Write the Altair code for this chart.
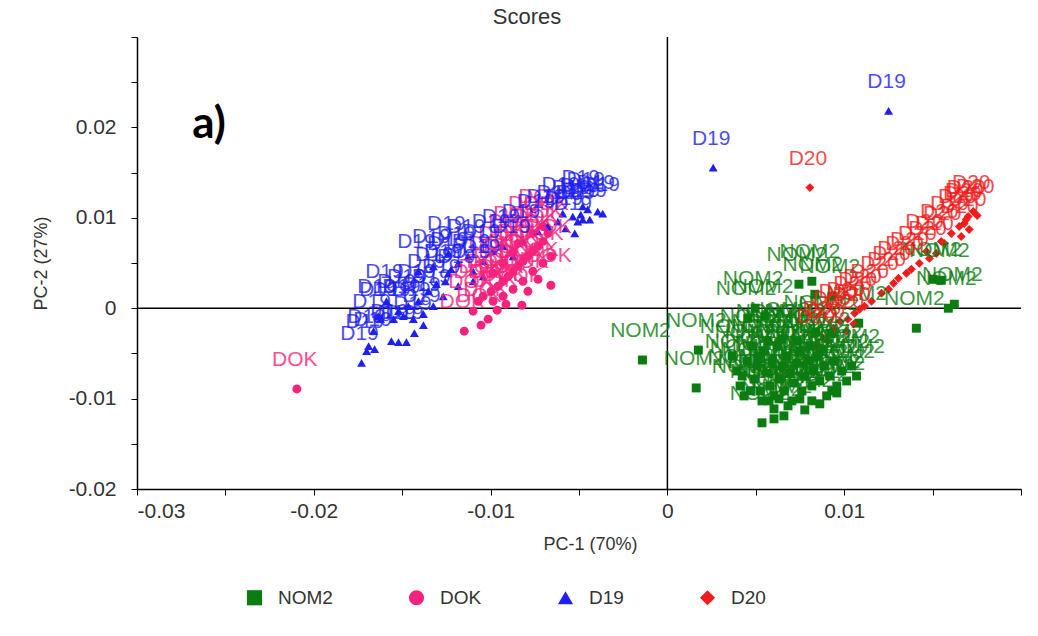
import altair as alt
import pandas as pd

groups = ["NOM2", "DOK", "D19", "D20"]
point_colors = ["#0b7d10", "#f5237c", "#1f1ff0", "#f21c1c"]
shapes = ["square", "circle", "triangle-up", "diamond"]

nom2_x = [-0.00141, 0.00163, 0.00175, 0.00496, 0.00456, 0.00552, 0.00744, 0.00834, 0.00839, 0.00924,
          0.01082, 0.01408, 0.01589, 0.01623, 0.01504, 0.00535, 0.00603, 0.00659, 0.00777, 0.00862,
          0.00930, 0.00958, 0.00575, 0.00631, 0.00817, 0.00930, 0.01549,
          0.00366, 0.00394, 0.00411, 0.00434, 0.00451, 0.00479, 0.00490, 0.00507, 0.00524, 0.00535,
          0.00546, 0.00563, 0.00580, 0.00592, 0.00603, 0.00620, 0.00637, 0.00648, 0.00659, 0.00676,
          0.00693, 0.00704, 0.00715, 0.00732, 0.00749, 0.00761, 0.00777, 0.00794, 0.00817, 0.00828,
          0.00845, 0.00862, 0.00885, 0.00901, 0.00918, 0.00941, 0.00958, 0.00986, 0.01014, 0.01042,
          0.01070,
          0.00603, 0.00682, 0.00749, 0.00817,
          0.00423, 0.00468, 0.00513, 0.00569, 0.00648, 0.00732, 0.00806, 0.00873]
nom2_y = [-0.00573, -0.00882, -0.00463, 0.00000, -0.00110, -0.00088, 0.00265, 0.00154, -0.00265, -0.00276,
          -0.00165, -0.00221, 0.00000, 0.00044, 0.00320, -0.01268, -0.01224, -0.01191, -0.01125, -0.01058,
          -0.00915, -0.00937, -0.01025, -0.01003, 0.00298, 0.00132, 0.00309,
          -0.00529, -0.00695, -0.00860, -0.00970, -0.00584, -0.00419, -0.00783, -0.00639, -0.00915, -0.01025,
          -0.00474, -0.00717, -0.00860, -0.00584, -0.00970, -0.00419, -0.00783, -0.00639, -0.00915, -0.00529,
          -0.00717, -0.01025, -0.00827, -0.00606, -0.00474, -0.00915, -0.00750, -0.00584, -0.00860, -0.00695,
          -0.00529, -0.00805, -0.00639, -0.00970, -0.00750, -0.00584, -0.00860, -0.00695, -0.00805, -0.00639,
          -0.00750,
          -0.01114, -0.01080, -0.01003, -0.01025,
          -0.00750, -0.00915, -0.00529, -0.00364, -0.00342, -0.00364, -0.00419, -0.00452]

dok_x = [-0.01149, -0.01054, -0.01014, -0.00963, -0.00913, -0.00823, -0.00659, -0.02096,
         -0.01099, -0.01070, -0.01042, -0.00997, -0.00958, -0.00930, -0.00901, -0.00873, -0.00845,
         -0.00817, -0.00789, -0.00761, -0.00732, -0.00704, -0.00676,
         -0.00986, -0.00930, -0.00873, -0.00817, -0.00761, -0.00704, -0.00659,
         -0.00789, -0.00732, -0.00873, -0.00930, -0.00986, -0.00761, -0.00704, -0.00845]
dok_y = [-0.00254, -0.00187, -0.00121, -0.00022, 0.00044, 0.00033, 0.00254, -0.00893,
         -0.00033, 0.00077, 0.00132, 0.00187, 0.00243, 0.00298, 0.00353, 0.00408, 0.00463,
         0.00518, 0.00573, 0.00628, 0.00684, 0.00739, 0.00827,
         0.00077, 0.00132, 0.00209, 0.00298, 0.00408, 0.00496, 0.00573,
         0.00187, 0.00320, 0.00628, 0.00496, 0.00386, 0.00827, 0.00904, 0.00717]

d19_x = [-0.01730, -0.01701, -0.01656, -0.01561, -0.01521, -0.01476, -0.01431, -0.01380, -0.01307,
         -0.01256, -0.01239, -0.01223, -0.00575, -0.00524, -0.00507, -0.00479, -0.00439, -0.00451,
         -0.00490, 0.00259, 0.01251,
         -0.01690, -0.01662, -0.01623, -0.01589, -0.01521, -0.01465, -0.01408, -0.01352, -0.01408,
         -0.01324, -0.01239, -0.01183, -0.01127, -0.01099, -0.01042, -0.00986, -0.00930, -0.00873,
         -0.00817, -0.00732, -0.00676, -0.00620, -0.00592, -0.00535, -0.00479, -0.00394, -0.00366,
         -0.01634, -0.01549, -0.01493, -0.01437, -0.01380, -0.01324, -0.01268, -0.01183, -0.01099,
         -0.01042]
d19_y = [-0.00606, -0.00474, -0.00452, -0.00364, -0.00375, -0.00375, -0.00276, -0.00187, 0.00265,
         0.00298, 0.00386, 0.00430, 0.00882, 0.00827, 0.00959, 0.00981, 0.00981, 0.01092,
         0.01036, 0.01555, 0.02183,
         -0.00419, -0.00254, -0.00121, 0.00077, -0.00033, 0.00022, 0.00077, 0.00187, 0.00408,
         0.00463, 0.00606, 0.00496, 0.00573, 0.00408, 0.00518, 0.00628, 0.00684, 0.00573,
         0.00739, 0.00849, 0.00904, 0.00959, 0.01047, 0.01014, 0.01125, 0.01069, 0.01047,
         -0.00088, -0.00121, -0.00088, -0.00121, -0.00066, 0.00022, 0.00132, 0.00243, 0.00298,
         0.00353]

d20_x = [0.00806, 0.00885, 0.00851, 0.00941, 0.00975, 0.01059, 0.01115, 0.01251, 0.01307, 0.01380,
         0.01482, 0.01521, 0.01566, 0.01662, 0.01707, 0.01679, 0.01701, 0.01730, 0.01752, 0.01690,
         0.01651, 0.01606, 0.01549, 0.01465, 0.01425, 0.01352, 0.01279, 0.01211, 0.01155, 0.01087,
         0.01020, 0.00907, 0.01014, 0.01054]
d20_y = [0.01334, -0.00331, -0.00419, -0.00221, -0.00143, -0.00055, 0.00022, 0.00209, 0.00331, 0.00430,
         0.00551, 0.00606, 0.00717, 0.00794, 0.00871, 0.00937, 0.01014, 0.01069, 0.01025, 0.00981,
         0.00904, 0.00827, 0.00739, 0.00628, 0.00496, 0.00386, 0.00276, 0.00165, 0.00077, -0.00011,
         -0.00121, -0.00364, -0.00254, -0.00176]

rows = []
for g, xs, ys in [("NOM2", nom2_x, nom2_y), ("DOK", dok_x, dok_y),
                  ("D19", d19_x, d19_y), ("D20", d20_x, d20_y)]:
    for xv, yv in zip(xs, ys):
        rows.append({"group": g, "x": xv, "y": yv})
df = pd.DataFrame(rows)

x_ticks = [-0.03, -0.025, -0.02, -0.015, -0.01, -0.005, 0.0, 0.005, 0.01, 0.015, 0.02]
y_ticks = [-0.02, -0.015, -0.01, -0.005, 0.0, 0.005, 0.01, 0.015, 0.02, 0.025, 0.03]

fmt = ("abs(round(datum.value*1000)) % 10 != 0 ? '' : "
       "(round(datum.value*100) == 0 ? '0' : (datum.value < 0 ? '-' : '') + '0.0' + abs(round(datum.value*100)))")
x_label_expr = "datum.value > 0.015 ? '' : (" + fmt + ")"
y_label_expr = "datum.value > 0.025 ? '' : (" + fmt + ")"

xscale = alt.Scale(domain=[-0.03, 0.02], nice=False, zero=False)
yscale = alt.Scale(domain=[-0.02, 0.03], nice=False, zero=False)
cscale = alt.Scale(domain=groups, range=point_colors)
sscale = alt.Scale(domain=groups, range=shapes)

X = alt.X("x:Q", scale=xscale,
          axis=alt.Axis(values=x_ticks, labelExpr=x_label_expr, title="PC-1 (70%)",
                        titleX=453, titlePadding=14, labelPadding=5))
Y = alt.Y("y:Q", scale=yscale,
          axis=alt.Axis(values=y_ticks, labelExpr=y_label_expr, title="PC-2 (27%)",
                        titlePadding=18, labelPadding=15))

base = alt.Chart(df)

leg = alt.Legend(title=None, orient="none", legendX=108, legendY=551, direction="horizontal",
                 symbolSize=230, labelFontSize=19, labelFont="Liberation Sans",
                 labelColor="#333", columnPadding=74, labelOffset=14)

labels = base.mark_text(fontSize=21, font="Liberation Sans", dy=-29, dx=-2,
                        opacity=0.8, align="center", baseline="middle").encode(
    x=X, y=Y, text="group:N",
    color=alt.Color("group:N", scale=cscale, legend=leg),
)

points = base.mark_point(filled=True, size=80, opacity=1).encode(
    x=X, y=Y,
    color=alt.Color("group:N", scale=cscale, legend=leg),
    shape=alt.Shape("group:N", scale=sscale, legend=leg),
)

hrule = alt.Chart(pd.DataFrame({"r": [0]})).mark_rule(color="black", strokeWidth=1.5).encode(
    y=alt.datum(0))
vrule = alt.Chart(pd.DataFrame({"r": [0]})).mark_rule(color="black", strokeWidth=1.5).encode(
    x=alt.datum(0))

panel = alt.Chart(pd.DataFrame({"t": ["a)"]})).mark_text(
    fontSize=44, fontWeight="bold", font="Lato", color="black", align="center",
    baseline="middle").encode(text="t:N", x=alt.value(72), y=alt.value(88))

chart = alt.layer(hrule, vrule, points, labels, panel).properties(
    width=884, height=452,
    autosize=alt.AutoSizeParams(type="none"),
    padding={"left": 137, "top": 37, "right": 17, "bottom": 147},
    title=alt.TitleParams("Scores", fontSize=22, fontWeight="normal", color="#333",
                          font="Liberation Sans", dx=-52, offset=7),
).configure_view(stroke=None).configure_axis(
    grid=False, domainColor="black", domainWidth=1.5, tickColor="black", tickSize=6,
    labelFontSize=21, labelFont="Liberation Sans", labelColor="#333",
    titleFontSize=18, titleFont="Liberation Sans", titleFontWeight="normal", titleColor="#333",
)

chart.save("out.html", embed_options={"renderer": "svg", "actions": False})
